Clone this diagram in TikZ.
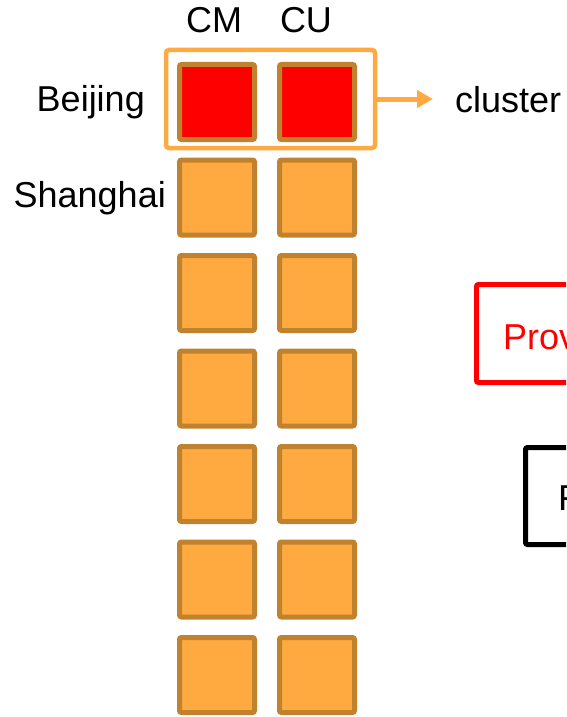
\documentclass[tikz,border=0pt]{standalone}
\usepackage{fontspec}
\setmainfont{Liberation Sans}
\usetikzlibrary{arrows.meta}
\definecolor{sqorange}{HTML}{FFAA40}
\definecolor{sqbrown}{HTML}{C1822F}
\definecolor{hotred}{HTML}{FF0000}

\begin{document}
\begin{tikzpicture}[x=1pt,y=-1pt,
  lbl/.style={inner sep=0pt,font=\fontsize{36}{43}\selectfont},
  dc/.style={draw=sqbrown,fill=sqorange,line width=5pt,rounded corners=2pt,
    minimum size=75pt,inner sep=0pt},
  hotdc/.style={dc,fill=hotred}]
\useasboundingbox (0,0) rectangle (566,717);
\clip (0,0) rectangle (566,717);
% column and row labels:
\node[lbl,anchor=base] (cm) at (214,33) {CM};
\node[lbl,anchor=base] (cu) at (306,33) {CU};
\node[lbl,anchor=base east] (bj) at (145,111) {Beijing};
\node[lbl,anchor=base east] (sh) at (166,207) {Shanghai};
% data centres, one row per city:
\foreach \r in {1,...,7}{
  \pgfmathsetmacro{\yy}{102+(\r-1)*95.5}
  \ifnum\r=1
    \node[hotdc] (cm\r) at (217,\yy) {};
    \node[hotdc] (cu\r) at (317,\yy) {};
  \else
    \node[dc] (cm\r) at (217,\yy) {};
    \node[dc] (cu\r) at (317,\yy) {};
  \fi
}
% the cluster:
\node[draw=sqorange,line width=4.5pt,rounded corners=3pt,minimum width=209pt,
  minimum height=98pt,inner sep=0pt] (clbox) at (270.5,99) {};
\node[lbl,anchor=base west] (cl) at (455,112) {cluster};
\draw[sqorange,line width=5pt,-{Triangle[length=16pt,width=17pt]},shorten >=22pt]
  (clbox.east) -- (clbox.east -| cl.west);
% boxes at the right edge:
\path[draw=hotred,line width=5pt,rounded corners=2pt] (476.5,284.5) rectangle (700,382.5);
\node[lbl,anchor=base west,text=hotred] (prov) at (503,349) {Prov};
\path[draw=black,line width=5pt,rounded corners=2pt] (525.5,447.5) rectangle (700,544.5);
\node[lbl,anchor=base west] (f) at (558,510) {F};
\end{tikzpicture}
\end{document}
